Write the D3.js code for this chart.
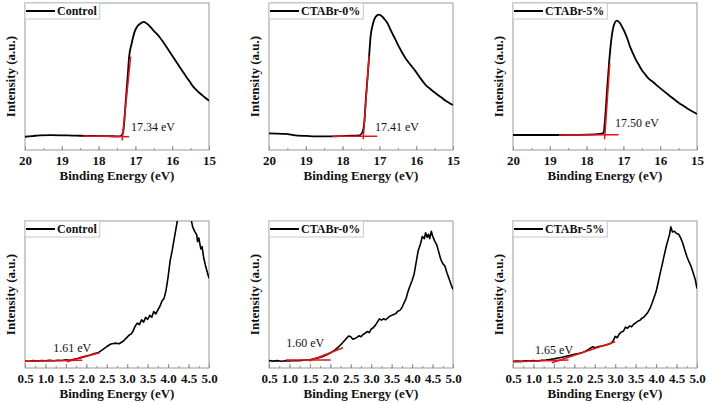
<!DOCTYPE html>
<html>
<head>
<meta charset="utf-8">
<script src="https://cdn.jsdelivr.net/npm/d3@7"></script>
</head>
<body style="margin:0;padding:0;background:#fff">
<svg id="chart" width="709" height="403" style="display:block"></svg>
<script>
// ---------- DATA ----------
const sampleNames = ["Control", "CTABr-0%", "CTABr-5%"];

// Top row: secondary electron cutoff (Binding energy 20 -> 15 eV)
const secoTicks = [20, 19, 18, 17, 16, 15];
const secoControl = [
  [20.0, 9.0], [19.8, 9.5], [19.6, 10.0], [19.3, 10.1], [19.0, 10.0], [18.7, 9.8], [18.5, 9.7],
  [18.2, 9.6], [18.0, 9.5], [17.7, 9.4], [17.5, 9.3], [17.4, 9.5], [17.36, 10.5], [17.33, 12.5],
  [17.3, 20.0], [17.26, 34.0], [17.21, 50.0], [17.17, 63.5], [17.1, 72.6], [17.02, 80.5],
  [16.95, 84.0], [16.88, 85.7], [16.77, 87.1], [16.7, 86.2], [16.6, 84.0], [16.52, 81.6],
  [16.43, 79.3], [16.34, 76.7], [16.25, 73.6], [16.16, 70.3], [16.07, 66.9], [15.98, 63.5],
  [15.89, 60.1], [15.8, 56.7], [15.71, 53.3], [15.62, 49.9], [15.52, 46.4], [15.43, 43.1],
  [15.34, 40.7], [15.25, 38.6], [15.12, 35.9], [15.0, 33.5]
];
const seco0 = [
  [20.0, 11.3], [19.8, 11.2], [19.55, 10.9], [19.28, 10.0], [18.91, 9.5], [18.6, 9.3], [18.28, 9.3],
  [18.0, 9.5], [17.75, 9.7], [17.55, 9.9], [17.48, 11.3], [17.44, 13.6], [17.4, 22.0], [17.37, 34.0],
  [17.32, 50.0], [17.28, 63.5], [17.24, 77.1], [17.17, 86.2], [17.1, 90.7], [17.01, 92.1],
  [16.92, 90.7], [16.85, 88.6], [16.78, 86.2], [16.72, 83.0], [16.65, 79.4], [16.56, 74.9],
  [16.47, 70.3], [16.38, 66.2], [16.29, 62.4], [16.15, 57.8], [16.01, 53.3], [15.88, 48.6],
  [15.74, 44.2], [15.6, 41.2], [15.47, 38.6], [15.33, 36.0], [15.2, 33.5], [15.1, 32.0], [15.0, 30.6]
];
const seco5 = [
  [20.0, 10.2], [19.5, 10.2], [19.0, 10.2], [18.77, 10.2], [18.4, 10.3], [17.95, 10.4], [17.64, 10.9],
  [17.54, 11.8], [17.5, 20.4], [17.45, 38.6], [17.39, 59.0], [17.33, 74.8], [17.27, 83.9],
  [17.18, 88.0], [17.09, 86.2], [17.02, 83.0], [16.95, 79.4], [16.88, 74.8], [16.82, 70.3],
  [16.75, 66.3], [16.68, 62.4], [16.59, 58.3], [16.5, 54.4], [16.41, 51.5], [16.32, 48.8],
  [16.18, 45.9], [16.05, 43.1], [15.91, 40.2], [15.77, 37.4], [15.63, 34.7], [15.5, 32.2],
  [15.36, 29.9], [15.23, 27.7], [15.11, 26.0], [15.0, 24.5]
];
const secoValues = ["17.34 eV", "17.41 eV", "17.50 eV"];
// tangent lines [x1,y1,x2,y2]
const secoBaseFits = [[18.42, 9.6, 17.17, 9.0], [18.28, 9.4, 17.06, 9.4], [18.75, 10.2, 17.13, 10.4]];
const secoEdgeFits = [[17.36, 6.5, 17.13, 63.5], [17.44, 7.3, 17.28, 64.0], [17.51, 7.3, 17.37, 59.0]];
const secoLabelPos = [[17.12, 13.0], [17.12, 12.6], [17.23, 15.6]];

// Bottom row: valence band region (0.5 -> 5.0 eV)
const vbTicks = [0.5, 1.0, 1.5, 2.0, 2.5, 3.0, 3.5, 4.0, 4.5, 5.0];
const vbControl = [
  [0.5, 4.8], [0.6, 4.6], [0.7, 5.0], [0.8, 4.7], [0.9, 5.1], [1.0, 4.9], [1.1, 5.2], [1.2, 4.9],
  [1.3, 5.3], [1.4, 5.1], [1.5, 5.5], [1.6, 5.3], [1.7, 6.0], [1.8, 6.6], [1.9, 7.4], [2.0, 8.2],
  [2.1, 8.8], [2.2, 9.9], [2.3, 10.6], [2.4, 12.5], [2.5, 14.6], [2.6, 16.3], [2.7, 16.9],
  [2.8, 16.5], [2.9, 18.2], [3.0, 21.0], [3.05, 22.5], [3.1, 23.2], [3.15, 25.5], [3.2, 28.8],
  [3.25, 30.6], [3.3, 29.5], [3.35, 32.8], [3.4, 31.2], [3.45, 34.4], [3.5, 33.0], [3.55, 35.8],
  [3.6, 34.6], [3.65, 38.4], [3.7, 36.8], [3.75, 39.5], [3.8, 42.0], [3.85, 45.5], [3.9, 47.2],
  [3.95, 53.0], [4.0, 62.0], [4.05, 73.0], [4.1, 80.0], [4.15, 88.0], [4.2, 96.0], [4.25, 104],
  [4.35, 110], [4.45, 108], [4.55, 103], [4.6, 96], [4.65, 93], [4.7, 90.5], [4.72, 86],
  [4.75, 88.5], [4.8, 81], [4.83, 82.5], [4.87, 75], [4.92, 69], [4.96, 65], [5.0, 61]
];
const vb0 = [
  [0.5, 5.0], [0.6, 4.7], [0.7, 5.0], [0.8, 4.6], [0.9, 4.9], [1.0, 4.8], [1.1, 5.1], [1.2, 4.9],
  [1.3, 5.2], [1.4, 5.4], [1.5, 5.6], [1.6, 6.2], [1.7, 6.9], [1.8, 7.7], [1.9, 8.8], [2.0, 10.2],
  [2.1, 12.0], [2.2, 14.3], [2.3, 17.2], [2.4, 20.3], [2.45, 21.8], [2.5, 21.2], [2.55, 19.6],
  [2.6, 20.0], [2.65, 20.8], [2.7, 21.9], [2.75, 21.2], [2.8, 22.8], [2.85, 23.6], [2.9, 24.8],
  [2.95, 24.1], [3.0, 26.5], [3.05, 27.4], [3.1, 29.0], [3.15, 31.2], [3.2, 33.4], [3.25, 32.6],
  [3.3, 33.5], [3.35, 32.8], [3.4, 34.0], [3.45, 35.2], [3.5, 35.8], [3.55, 36.4], [3.6, 37.0],
  [3.65, 38.6], [3.7, 39.2], [3.75, 41.0], [3.8, 44.2], [3.85, 47.0], [3.9, 52.0], [3.95, 56.0],
  [4.0, 59.5], [4.05, 64.0], [4.1, 72.0], [4.15, 80.0], [4.2, 84.0], [4.25, 89.5], [4.3, 88.0],
  [4.33, 92.0], [4.37, 89.0], [4.4, 91.0], [4.43, 88.0], [4.47, 93.0], [4.5, 90.0], [4.55, 86.5],
  [4.6, 84.0], [4.65, 79.0], [4.7, 74.0], [4.75, 71.0], [4.8, 69.5], [4.85, 65.0], [4.9, 61.0],
  [4.95, 57.0], [5.0, 53.5]
];
const vb5 = [
  [0.5, 4.5], [0.6, 4.7], [0.7, 4.5], [0.8, 4.9], [0.9, 4.7], [1.0, 5.0], [1.1, 4.8], [1.2, 5.3],
  [1.3, 5.4], [1.4, 5.8], [1.5, 6.2], [1.6, 6.8], [1.7, 7.3], [1.8, 8.0], [1.9, 8.6], [2.0, 9.3],
  [2.1, 9.8], [2.2, 10.6], [2.3, 11.8], [2.4, 13.6], [2.45, 14.4], [2.5, 13.8], [2.6, 14.6],
  [2.7, 15.1], [2.8, 15.8], [2.9, 16.8], [2.95, 18.5], [3.0, 21.5], [3.05, 20.6], [3.1, 23.2],
  [3.15, 24.5], [3.2, 25.0], [3.25, 27.8], [3.3, 27.0], [3.35, 28.6], [3.4, 28.0], [3.45, 29.8],
  [3.5, 30.6], [3.55, 31.8], [3.6, 32.4], [3.65, 33.8], [3.7, 34.6], [3.75, 36.2], [3.8, 38.0],
  [3.85, 40.5], [3.9, 44.0], [3.95, 48.0], [4.0, 52.0], [4.05, 58.0], [4.1, 64.5], [4.15, 70.5],
  [4.2, 77.0], [4.25, 83.0], [4.3, 88.0], [4.33, 91.0], [4.36, 96.0], [4.4, 92.5], [4.45, 93.0],
  [4.5, 91.5], [4.55, 91.0], [4.6, 88.5], [4.65, 85.0], [4.7, 80.5], [4.75, 76.0], [4.8, 72.5],
  [4.85, 69.5], [4.88, 67.0], [4.92, 63.5], [4.96, 60.0], [5.0, 54.0]
];
const vbValues = ["1.61 eV", "1.60 eV", "1.65 eV"];
const vbBaseFits = [[0.5, 4.6, 1.9, 5.3], [0.91, 5.4, 2.01, 5.4], [0.5, 4.2, 1.86, 5.4]];
const vbEdgeFits = [[1.52, 4.3, 2.33, 10.4], [1.48, 4.8, 2.31, 13.8], [1.45, 3.6, 3.0, 17.9]];
const vbLabelPos = [[1.19, 10.9], [0.92, 14.1], [1.04, 9.5]];

// ---------- LAYOUT ----------
const FONT = '"Liberation Serif"';
const svg = d3.select("#chart");
const colLeft = [25, 269, 513];
const plotW = 184;
const rows = [
  { top: 3, bottom: 150, domain: [20, 15], ticks: secoTicks, minor: d3.range(20, 14.99, -0.5),
    fmt: d3.format("d"), series: [secoControl, seco0, seco5], base: secoBaseFits, edge: secoEdgeFits,
    labels: secoValues, labelPos: secoLabelPos, lw: 1.8, curve: d3.curveMonotoneX },
  { top: 221, bottom: 368, domain: [0.5, 5.0], ticks: vbTicks, minor: d3.range(0.5, 5.001, 0.25),
    fmt: d3.format(".1f"), series: [vbControl, vb0, vb5], base: vbBaseFits, edge: vbEdgeFits,
    labels: vbValues, labelPos: vbLabelPos, lw: 1.6, curve: d3.curveLinear }
];

function styleText(sel, size, weight) {
  return sel.style("font-family", FONT).style("font-size", size + "px")
    .style("font-weight", weight).style("fill", "#111");
}

let clipId = 0;
rows.forEach(row => {
  colLeft.forEach((left, i) => {
    const x = d3.scaleLinear().domain(row.domain).range([left, left + plotW]);
    const y = d3.scaleLinear().domain([0, 100]).range([row.bottom, row.top]);
    const g = svg.append("g");
    const cid = "clip" + (clipId++);
    svg.append("clipPath").attr("id", cid).append("rect")
      .attr("x", left).attr("y", row.top).attr("width", plotW).attr("height", row.bottom - row.top);

    // minor ticks
    g.append("g").attr("transform", `translate(0,${row.bottom})`)
      .call(d3.axisBottom(x).tickValues(row.minor).tickSize(-2).tickFormat(""))
      .call(a => a.select(".domain").remove())
      .call(a => a.selectAll("line").attr("stroke", "#8a8a8a"));
    // major ticks + labels
    g.append("g").attr("transform", `translate(0,${row.bottom})`)
      .call(d3.axisBottom(x).tickValues(row.ticks).tickSize(-4).tickPadding(6).tickFormat(row.fmt))
      .call(a => a.select(".domain").remove())
      .call(a => a.selectAll("line").attr("stroke", "#8a8a8a"))
      .call(a => styleText(a.selectAll("text"), 13, "bold"));

    // frame
    g.append("rect").attr("x", left).attr("y", row.top).attr("width", plotW)
      .attr("height", row.bottom - row.top).attr("fill", "none").attr("stroke", "#999").attr("stroke-width", 1);

    const fits = [row.base[i], row.edge[i]];

    // data curve
    const line = d3.line().x(d => x(d[0])).y(d => y(d[1])).curve(row.curve);
    g.append("path").datum(row.series[i]).attr("d", line)
      .attr("clip-path", `url(#${cid})`)
      .attr("fill", "none").attr("stroke", "#000").attr("stroke-width", row.lw)
      .attr("stroke-linejoin", "round");

    // red fit lines (drawn over the curve)
    g.selectAll("line.fit").data(fits).join("line").attr("class", "fit")
      .attr("x1", d => x(d[0])).attr("y1", d => y(d[1]))
      .attr("x2", d => x(d[2])).attr("y2", d => y(d[3]))
      .attr("stroke", "#e8141a").attr("stroke-width", 1.5);

    // value label
    styleText(g.append("text").attr("x", x(row.labelPos[i][0])).attr("y", y(row.labelPos[i][1])), 12, "normal")
      .text(row.labels[i]);

    // axis titles
    styleText(g.append("text").attr("x", left + plotW / 2).attr("y", row.bottom + 30)
      .attr("text-anchor", "middle"), 13, "bold")
      .text("Binding Energy (eV)");
    styleText(g.append("text")
      .attr("transform", `translate(${left - 15},${(row.top + row.bottom) / 2}) rotate(-90)`)
      .attr("text-anchor", "middle").attr("dominant-baseline", "central"), 13, "bold")
      .text("Intensity (a.u.)");

    // legend
    const lg = g.append("g");
    const box = lg.append("rect").attr("x", left).attr("y", row.top).attr("height", 16)
      .attr("fill", "#fff").attr("stroke", "#c8c8c8").attr("stroke-width", 1);
    lg.append("line").attr("x1", left + 1).attr("x2", left + 30)
      .attr("y1", row.top + 8).attr("y2", row.top + 8).attr("stroke", "#000").attr("stroke-width", 2);
    const t = styleText(lg.append("text").attr("x", left + 32).attr("y", row.top + 8)
      .attr("dominant-baseline", "central"), 12, "bold")
      .text(sampleNames[i]);
    const tw = t.node().getComputedTextLength();
    box.attr("width", 32 + tw + 3);
  });
});
</script>
</body>
</html>
